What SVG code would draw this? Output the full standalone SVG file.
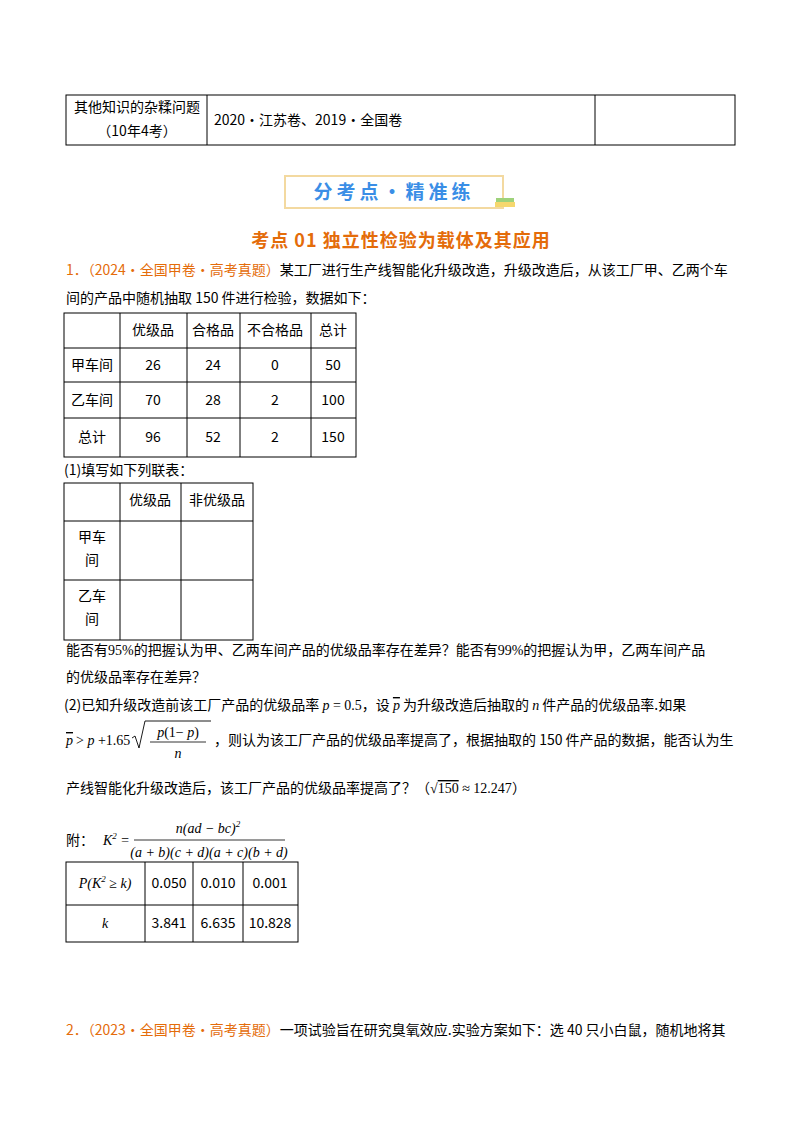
<svg xmlns="http://www.w3.org/2000/svg" width="800" height="1132" viewBox="0 0 800 1132">
<style>
text{font-family:"Noto Sans CJK SC","Noto Sans",sans-serif;font-size:14px;fill:#000}
.m{font-family:"Liberation Serif",serif;font-style:italic}
.n{font-family:"Liberation Serif",serif}
.c{text-anchor:middle}
.t{fill:none;stroke:#000;stroke-width:1}
.o{fill:#E46C0A}
.ov{text-decoration:overline}
</style>
<rect width="800" height="1132" fill="#fff"/>
<g id="top-table">
<rect class="t" x="66" y="95" width="669" height="50"/>
<line class="t" x1="207" y1="95" x2="207" y2="145"/>
<line class="t" x1="595" y1="95" x2="595" y2="145"/>
<text x="137" y="112" class="c">其他知识的杂糅问题</text>
<text x="137" y="136" class="c">（10年4考）</text>
<text x="214" y="125">2020·江苏卷、2019·全国卷</text>
</g>
<g id="banner">
<rect x="285" y="176" width="218" height="32" fill="#fff" stroke="#F3D9A0" stroke-width="2"/>
<text x="394" y="199" class="c" style="font-size:19px;font-weight:bold;fill:#3A8EE6;letter-spacing:4px">分考点·精准练</text>
<rect x="496" y="198" width="18" height="4" fill="#9ED27A"/>
<rect x="495" y="202" width="20" height="5" fill="#F5D76E"/>
</g>
<text x="401" y="247" class="c o" style="font-size:18px;font-weight:bold;letter-spacing:1px">考点 01  独立性检验为载体及其应用</text>
<text x="66" y="275"><tspan class="o">1．（2024·全国甲卷·高考真题）</tspan>某工厂进行生产线智能化升级改造，升级改造后，从该工厂甲、乙两个车</text>
<text x="66" y="303">间的产品中随机抽取 150 件进行检验，数据如下：</text>
<g id="table1">
<rect class="t" x="64" y="313" width="292" height="144"/>
<line class="t" x1="120" y1="313" x2="120" y2="457"/>
<line class="t" x1="187" y1="313" x2="187" y2="457"/>
<line class="t" x1="240" y1="313" x2="240" y2="457"/>
<line class="t" x1="311" y1="313" x2="311" y2="457"/>
<line class="t" x1="64" y1="348" x2="356" y2="348"/>
<line class="t" x1="64" y1="382" x2="356" y2="382"/>
<line class="t" x1="64" y1="418" x2="356" y2="418"/>
<text x="153" y="335" class="c">优级品</text><text x="213" y="335" class="c">合格品</text><text x="275" y="335" class="c">不合格品</text><text x="333" y="335" class="c">总计</text>
<text x="92" y="370" class="c">甲车间</text><text x="153" y="370" class="c">26</text><text x="213" y="370" class="c">24</text><text x="275" y="370" class="c">0</text><text x="333" y="370" class="c">50</text>
<text x="92" y="405" class="c">乙车间</text><text x="153" y="405" class="c">70</text><text x="213" y="405" class="c">28</text><text x="275" y="405" class="c">2</text><text x="333" y="405" class="c">100</text>
<text x="92" y="442" class="c">总计</text><text x="153" y="442" class="c">96</text><text x="213" y="442" class="c">52</text><text x="275" y="442" class="c">2</text><text x="333" y="442" class="c">150</text>
</g>
<text x="64" y="475">(1)填写如下列联表：</text>
<g id="table2">
<rect class="t" x="64" y="483" width="189" height="157"/>
<line class="t" x1="120" y1="483" x2="120" y2="640"/>
<line class="t" x1="181" y1="483" x2="181" y2="640"/>
<line class="t" x1="64" y1="521" x2="253" y2="521"/>
<line class="t" x1="64" y1="580" x2="253" y2="580"/>
<text x="150" y="505" class="c">优级品</text><text x="217" y="505" class="c">非优级品</text>
<text x="92" y="542" class="c">甲车</text><text x="92" y="565" class="c">间</text>
<text x="92" y="601" class="c">乙车</text><text x="92" y="624" class="c">间</text>
</g>
<text x="66" y="655">能否有<tspan class="n">95%</tspan>的把握认为甲、乙两车间产品的优级品率存在差异？能否有<tspan class="n">99%</tspan>的把握认为甲，乙两车间产品</text>
<text x="66" y="682">的优级品率存在差异？</text>
<text x="64" y="710">(2)已知升级改造前该工厂产品的优级品率 <tspan class="m">p</tspan><tspan class="n"> = 0.5</tspan>，设 <tspan class="m ov">p</tspan> 为升级改造后抽取的 <tspan class="m">n</tspan> 件产品的优级品率.如果</text>
<g id="formula1">
<text x="66" y="745" class="m ov">p</text>
<text x="76" y="745" class="n">&gt; <tspan class="m">p</tspan> +1.65</text>
<path d="M132,738 l3,-2 l4,12 l6,-27 h66" fill="none" stroke="#000" stroke-width="0.9"/>
<text x="178" y="737" class="c n"><tspan class="m">p</tspan>(1− <tspan class="m">p</tspan>)</text>
<line x1="150" y1="742" x2="206" y2="742" stroke="#000" stroke-width="0.8"/>
<text x="178" y="758" class="c m">n</text>
<text x="214" y="745">，则认为该工厂产品的优级品率提高了，根据抽取的 150 件产品的数据，能否认为生</text>
</g>
<text x="66" y="793">产线智能化升级改造后，该工厂产品的优级品率提高了？（<tspan class="n">√</tspan><tspan class="n ov">150</tspan><tspan class="n"> ≈ 12.247</tspan>）</text>
<g id="formula2">
<text x="66" y="845">附：</text>
<text x="103" y="845" class="m">K<tspan style="font-size:9px" dy="-6">2</tspan><tspan dy="6" class="n"> =</tspan></text>
<text x="208" y="833" class="c m">n(ad − bc)<tspan style="font-size:9px" dy="-6">2</tspan></text>
<line x1="134" y1="840" x2="285" y2="840" stroke="#000" stroke-width="0.8"/>
<text x="209" y="857" class="c m">(a + b)(c + d)(a + c)(b + d)</text>
</g>
<g id="table3">
<rect class="t" x="66" y="862" width="232" height="80"/>
<line class="t" x1="145" y1="862" x2="145" y2="942"/>
<line class="t" x1="193" y1="862" x2="193" y2="942"/>
<line class="t" x1="243" y1="862" x2="243" y2="942"/>
<line class="t" x1="66" y1="905" x2="298" y2="905"/>
<text x="105" y="888" class="c m">P(K<tspan style="font-size:9px" dy="-6">2</tspan><tspan dy="6"> ≥ k)</tspan></text>
<text x="169" y="888" class="c">0.050</text><text x="218" y="888" class="c">0.010</text><text x="270" y="888" class="c">0.001</text>
<text x="105" y="928" class="c m">k</text>
<text x="169" y="928" class="c">3.841</text><text x="218" y="928" class="c">6.635</text><text x="270" y="928" class="c">10.828</text>
</g>
<text x="66" y="1035"><tspan class="o">2．（2023·全国甲卷·高考真题）</tspan>一项试验旨在研究臭氧效应.实验方案如下：选 40 只小白鼠，随机地将其</text>
</svg>
